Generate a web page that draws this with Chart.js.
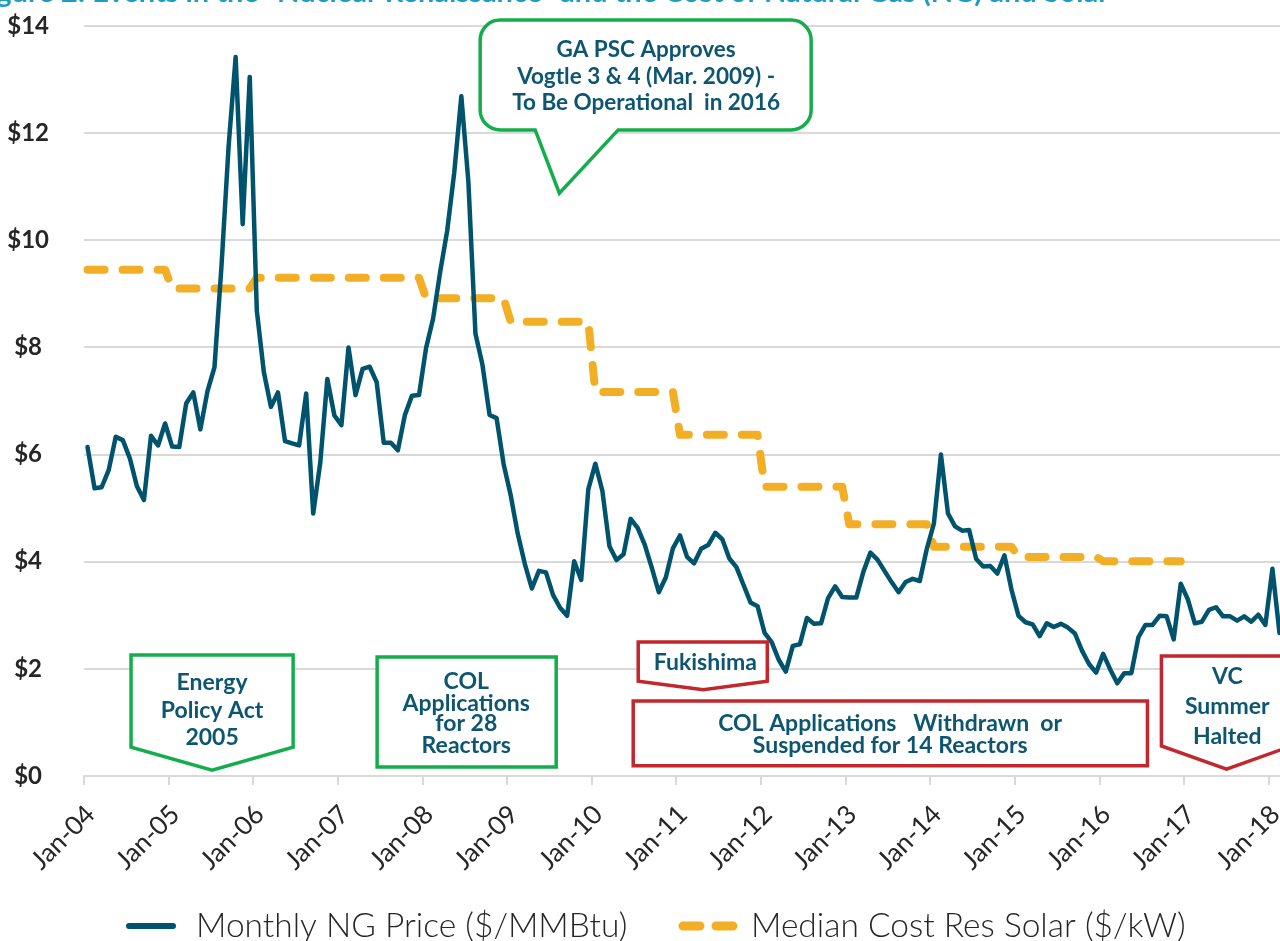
<!DOCTYPE html>
<html><head><meta charset="utf-8">
<script src="https://cdn.jsdelivr.net/npm/chart.js@4.4.1/dist/chart.umd.min.js"></script>
<style>
html,body{margin:0;padding:0;background:#fff;overflow:hidden;width:1280px;height:941px;}
#wrap{position:relative;width:1283px;height:941px;overflow:hidden;}
canvas{display:block;}
</style></head><body>
<div id="wrap"><canvas id="c" width="1283" height="941"></canvas></div>
<script>
// ---------- DATA ----------
const monthNames = ['Jan','Feb','Mar','Apr','May','Jun','Jul','Aug','Sep','Oct','Nov','Dec'];
const yearLabels = ['04','05','06','07','08','09','10','11','12','13','14','15','16','17','18'];
const lastMonthOfLastYear = 2; // data runs through Feb-18
const categories = [];
yearLabels.forEach((yy, yi) => {
  const n = yi === yearLabels.length - 1 ? lastMonthOfLastYear : 12;
  for (let m = 0; m < n; m++) categories.push(monthNames[m] + '-' + yy);
});

// Monthly NG price, $/MMBtu (Jan-04 .. Feb-18)
const ngPrice = [
  6.14, 5.37, 5.39, 5.71, 6.33, 6.27, 5.93, 5.41, 5.15, 6.35, 6.17, 6.58,
  6.15, 6.14, 6.96, 7.16, 6.47, 7.18, 7.63, 9.53, 11.75, 13.42, 10.30, 13.05,
  8.69, 7.54, 6.89, 7.16, 6.25, 6.21, 6.17, 7.14, 4.90, 5.85, 7.41, 6.73,
  6.55, 8.00, 7.11, 7.60, 7.64, 7.35, 6.22, 6.22, 6.08, 6.74, 7.10, 7.11,
  7.99, 8.54, 9.41, 10.18, 11.27, 12.69, 11.09, 8.26, 7.67, 6.74, 6.68, 5.82,
  5.24, 4.52, 3.96, 3.50, 3.83, 3.80, 3.38, 3.14, 2.99, 4.01, 3.66, 5.35,
  5.83, 5.32, 4.29, 4.03, 4.14, 4.80, 4.63, 4.32, 3.89, 3.43, 3.71, 4.25,
  4.49, 4.09, 3.97, 4.24, 4.31, 4.54, 4.42, 4.06, 3.90, 3.57, 3.24, 3.17,
  2.67, 2.50, 2.17, 1.95, 2.43, 2.46, 2.95, 2.84, 2.85, 3.32, 3.54, 3.34,
  3.33, 3.33, 3.81, 4.17, 4.04, 3.83, 3.62, 3.43, 3.62, 3.68, 3.64, 4.24,
  4.71, 6.00, 4.90, 4.66, 4.58, 4.59, 4.05, 3.91, 3.92, 3.78, 4.12, 3.48,
  2.99, 2.87, 2.83, 2.61, 2.85, 2.78, 2.84, 2.77, 2.66, 2.34, 2.09, 1.93,
  2.28, 1.99, 1.73, 1.92, 1.92, 2.59, 2.82, 2.82, 2.99, 2.98, 2.55, 3.59,
  3.30, 2.85, 2.88, 3.10, 3.15, 2.98, 2.98, 2.90, 2.98, 2.88, 3.01, 2.82,
  3.87, 2.67
];

// Median cost residential solar (step levels: first / last month of each level)
const solarSteps = [
  ['Jan-04', 9.45], ['Dec-04', 9.45],
  ['Jan-05', 9.10], ['Dec-05', 9.10],
  ['Jan-06', 9.30], ['Dec-07', 9.30],
  ['Jan-08', 8.92], ['Dec-08', 8.92],
  ['Jan-09', 8.48], ['Dec-09', 8.48],
  ['Jan-10', 7.17], ['Dec-10', 7.17],
  ['Jan-11', 6.37], ['Dec-11', 6.37],
  ['Jan-12', 5.40], ['Dec-12', 5.40],
  ['Jan-13', 4.70], ['Dec-13', 4.70],
  ['Jan-14', 4.28], ['Dec-14', 4.28],
  ['Jan-15', 4.09], ['Dec-15', 4.09],
  ['Jan-16', 4.01], ['Dec-16', 4.01]
];

const yTickValues = [0, 2, 4, 6, 8, 10, 12, 14];
const seriesNames = ['Monthly NG Price ($/MMBtu)', 'Median Cost Res Solar ($/kW)'];
const titleText = 'Figure 2: Events in the \u201CNuclear Renaissance\u201D and the Cost of Natural Gas (NG) and Solar';

// ---------- STYLE ----------
const C = {
  ng: '#00536D', solar: '#F2AE24', grid: '#D9D9D9', tick: '#262626',
  green: '#13AE4B', red: '#C1272D', note: '#0D5672', title: '#1E9CC4'
};

// Annotations placed in data space (x = month index, y = $)
const notes = [
  {shape:'pentagon', stroke:C.green, x0:6.17, x1:29.15, tipX:17.66, yTop:2.26, yShoulder:0.54, yTip:0.11, tx:17.66, size:23,
   lines:[['Energy',1.74],['Policy Act',1.23],['2005',0.71]]},
  {shape:'rect', stroke:C.green, x0:41.06, x1:66.45, yTop:2.22, yBot:0.17, tx:53.7, size:23,
   lines:[['COL',1.77],['Applications',1.36],['for 28',0.97],['Reactors',0.56]]},
  {shape:'callout', stroke:C.green, x0:55.67, x1:102.6, yTop:14.11, yBot:12.06, pL:63.47, pTip:66.9, pR:75.24, yTip:10.88, tx:79.2, size:22.5,
   lines:[['GA PSC Approves',13.55],['Vogtle 3 & 4 (Mar. 2009) -',13.05],['To Be Operational  in 2016',12.56]]},
  {shape:'pentagon', stroke:C.red, x0:78.08, x1:96.38, tipX:87.3, yTop:2.50, yShoulder:1.77, yTip:1.61, tx:87.6, size:23,
   lines:[['Fukishima',2.11]]},
  {shape:'rect', stroke:C.red, x0:77.37, x1:150.28, yTop:1.40, yBot:0.19, tx:113.8, size:23,
   lines:[['COL Applications   Withdrawn  or',0.97],['Suspended for 14 Reactors',0.56]]},
  {shape:'pentagon', stroke:C.red, x0:152.26, x1:170.7, tipX:161.5, yTop:2.24, yShoulder:0.56, yTip:0.13, tx:161.6, size:23,
   lines:[['VC',1.85],['Summer',1.29],['Halted',0.73]]}
];

const annotationPlugin = {
  id: 'notes',
  afterDatasetsDraw(chart) {
    const ctx = chart.ctx, xs = chart.scales.x, ys = chart.scales.y;
    const X = v => xs.getPixelForValue(v), Y = v => ys.getPixelForValue(v);
    ctx.save();
    notes.forEach(n => {
      ctx.beginPath();
      if (n.shape === 'pentagon') {
        ctx.moveTo(X(n.x0), Y(n.yTop));
        ctx.lineTo(X(n.x1), Y(n.yTop));
        ctx.lineTo(X(n.x1), Y(n.yShoulder));
        ctx.lineTo(X(n.tipX), Y(n.yTip));
        ctx.lineTo(X(n.x0), Y(n.yShoulder));
        ctx.closePath();
      } else if (n.shape === 'rect') {
        ctx.rect(X(n.x0), Y(n.yTop), X(n.x1) - X(n.x0), Y(n.yBot) - Y(n.yTop));
      } else {
        const l = X(n.x0), r = X(n.x1), t = Y(n.yTop), b = Y(n.yBot), rad = 20;
        ctx.moveTo(l + rad, t);
        ctx.lineTo(r - rad, t);
        ctx.arcTo(r, t, r, t + rad, rad);
        ctx.lineTo(r, b - rad);
        ctx.arcTo(r, b, r - rad, b, rad);
        ctx.lineTo(X(n.pR), b);
        ctx.lineTo(X(n.pTip), Y(n.yTip));
        ctx.lineTo(X(n.pL), b);
        ctx.lineTo(l + rad, b);
        ctx.arcTo(l, b, l, b - rad, rad);
        ctx.lineTo(l, t + rad);
        ctx.arcTo(l, t, l + rad, t, rad);
        ctx.closePath();
      }
      ctx.fillStyle = '#fff';
      ctx.fill();
      ctx.lineWidth = 3.5;
      ctx.lineJoin = 'miter';
      ctx.strokeStyle = n.stroke;
      ctx.stroke();
      ctx.fillStyle = C.note;
      ctx.font = 'bold ' + n.size + 'px Lato';
      ctx.textAlign = 'center';
      ctx.textBaseline = 'middle';
      n.lines.forEach(([txt, yv]) => ctx.fillText(txt, X(n.tx), Y(yv)));
    });
    ctx.restore();
  }
};

const titlePlugin = {
  id: 'cutTitle',
  afterDraw(chart) {
    const ctx = chart.ctx;
    ctx.save();
    ctx.font = 'bold 29px Lato';
    ctx.fillStyle = C.title;
    ctx.textAlign = 'right';
    ctx.textBaseline = 'alphabetic';
    ctx.fillText(titleText, 1109, 2);
    ctx.restore();
  }
};

const legendPlugin = {
  id: 'bottomLegend',
  afterDraw(chart) {
    const ctx = chart.ctx;
    const items = [
      {ds: chart.data.datasets[0], x0: 129, x1: 173, tx: 196, lw: 6},
      {ds: chart.data.datasets[1], x0: 683, x1: 733, tx: 751, lw: 9}
    ];
    const yc = 926;
    ctx.save();
    items.forEach(it => {
      ctx.beginPath();
      ctx.strokeStyle = it.ds.borderColor;
      ctx.lineWidth = it.lw;
      ctx.lineCap = 'round';
      ctx.setLineDash(it.ds.borderDash ? [17, 16] : []);
      ctx.moveTo(it.x0, yc);
      ctx.lineTo(it.x1, yc);
      ctx.stroke();
      ctx.setLineDash([]);
      ctx.fillStyle = C.tick;
      ctx.font = '300 33.5px Lato';
      ctx.textAlign = 'left';
      ctx.textBaseline = 'middle';
      ctx.fillText(it.ds.label, it.tx, yc);
    });
    ctx.restore();
  }
};

Chart.defaults.font.family = 'Lato';

new Chart(document.getElementById('c'), {
  type: 'line',
  data: {
    labels: categories,
    datasets: [
      {
        label: seriesNames[0],
        data: ngPrice,
        borderColor: C.ng,
        backgroundColor: C.ng,
        borderWidth: 4.5,
        pointRadius: 0,
        tension: 0,
        borderJoinStyle: 'round',
        borderCapStyle: 'round',
        fill: false
      },
      {
        label: seriesNames[1],
        data: solarSteps.map(([m, v]) => ({x: m, y: v})),
        borderColor: C.solar,
        backgroundColor: C.solar,
        borderWidth: 8,
        borderDash: [17, 18],
        borderCapStyle: 'round',
        borderJoinStyle: 'round',
        pointRadius: 0,
        tension: 0,
        fill: false
      }
    ]
  },
  options: {
    responsive: false,
    animation: false,
    devicePixelRatio: 1,
    layout: {padding: {top: 26, right: 0, bottom: 0, left: 0}, autoPadding: false},
    plugins: {legend: {display: false}, tooltip: {enabled: false}, title: {display: false}},
    scales: {
      x: {
        type: 'category',
        offset: true,
        grid: {
          offset: true, drawOnChartArea: false, drawTicks: true, tickLength: 9, lineWidth: 2,
          color: c => (c.index % 12 === 0 ? C.grid : 'rgba(0,0,0,0)')
        },
        border: {display: true, color: C.grid, width: 2},
        ticks: {
          autoSkip: false, maxRotation: 45, minRotation: 45, padding: 14, labelOffset: 3,
          color: C.tick, font: {family: 'Lato', size: 26},
          callback: function (v, i) { return i % 12 === 0 ? this.getLabelForValue(v) : ''; }
        },
        afterFit: s => { s.height = 165; s.paddingLeft = 0; s.paddingRight = 0; }
      },
      y: {
        min: 0, max: 14,
        afterBuildTicks: s => { s.ticks = yTickValues.map(v => ({value: v})); },
        ticks: {padding: 4, crossAlign: 'center', color: C.tick, font: {family: 'Lato', size: 24, weight: 'bold'}, callback: v => '$' + v},
        grid: {color: C.grid, lineWidth: 2, drawTicks: true, tickLength: 31, tickColor: 'rgba(0,0,0,0)'},
        border: {display: false},
        afterFit: s => { s.width = 84; s.paddingTop = 0; s.paddingBottom = 0; }
      }
    }
  },
  plugins: [annotationPlugin, titlePlugin, legendPlugin]
});
</script>
</body></html>
